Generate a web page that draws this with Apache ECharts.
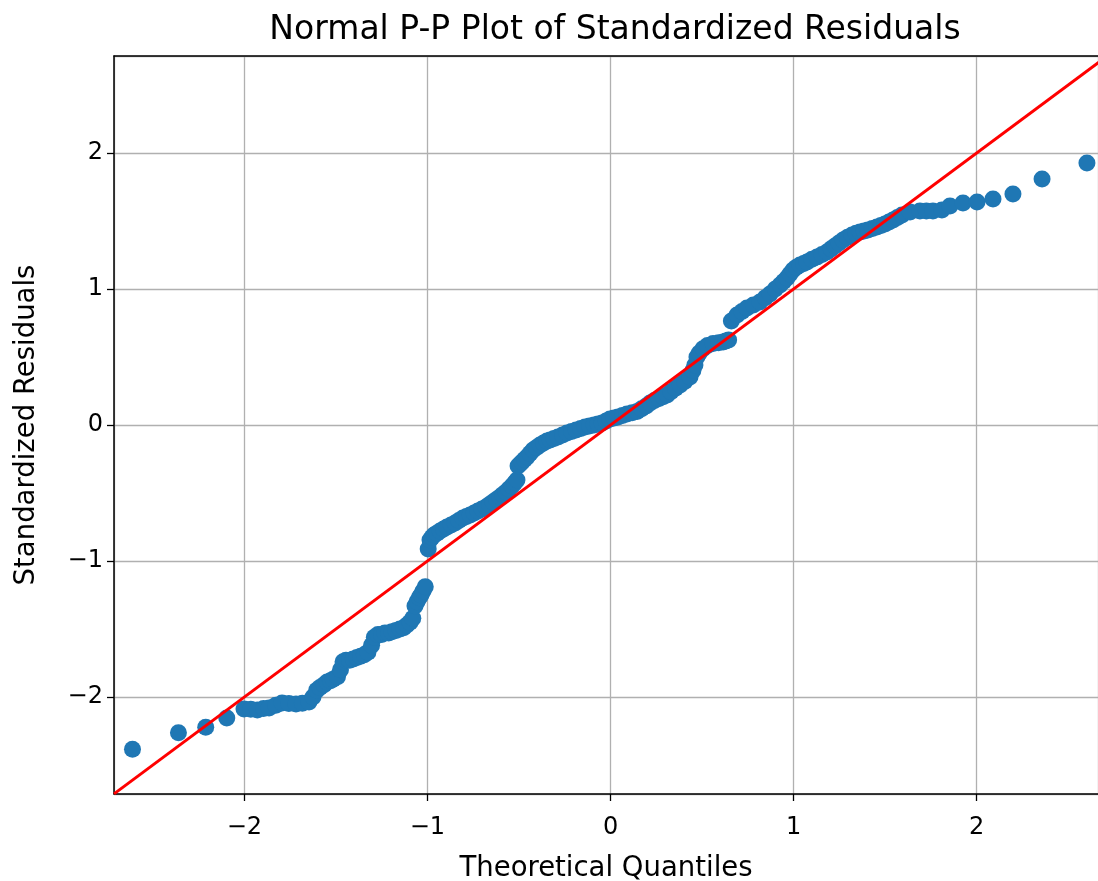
<!DOCTYPE html>
<html>
<head>
<meta charset="utf-8">
<script src="https://cdn.jsdelivr.net/npm/echarts@6/dist/echarts.min.js"></script>
<style>html,body{margin:0;padding:0;background:#fff}#c{width:1098px;height:881px}</style>
</head>
<body>
<div id="c"></div>
<script>
const titleText = "Normal P-P Plot of Standardized Residuals";
const xName = "Theoretical Quantiles";
const yName = "Standardized Residuals";
const xLimits = [-2.712, 2.6625];
const yLimits = [-2.713, 2.713];
const theoreticalQuantiles = [
-2.611,-2.360,-2.211,-2.096,-2.002,-1.965,-1.929,-1.895,-1.865,-1.828,-1.794,-1.757,-1.718,-1.683,-1.647,-1.625,-1.605,-1.587,-1.565,-1.548,
-1.530,-1.515,-1.491,-1.475,-1.461,-1.445,-1.425,-1.405,-1.385,-1.365,-1.345,-1.325,-1.305,-1.290,-1.270,-1.250,-1.232,-1.212,-1.194,-1.172,
-1.150,-1.130,-1.112,-1.095,-1.080,-1.068,-1.057,-1.045,-1.035,-1.024,-1.012,-0.996,-0.986,-0.975,-0.964,-0.948,-0.931,-0.912,-0.893,-0.871,
-0.849,-0.828,-0.806,-0.787,-0.767,-0.745,-0.724,-0.702,-0.680,-0.661,-0.642,-0.623,-0.604,-0.588,-0.571,-0.555,-0.538,-0.524,-0.511,-0.505,
-0.494,-0.483,-0.470,-0.456,-0.440,-0.423,-0.404,-0.385,-0.366,-0.347,-0.330,-0.309,-0.287,-0.262,-0.238,-0.213,-0.188,-0.163,-0.139,-0.115,
-0.090,-0.068,-0.046,-0.024,-0.003,0.019,0.041,0.065,0.090,0.118,0.145,0.170,0.195,0.216,0.240,0.265,0.287,0.309,0.330,0.355,
0.380,0.405,0.434,0.450,0.461,0.472,0.485,0.505,0.530,0.560,0.590,0.615,0.630,0.645,0.660,0.691,0.718,0.745,0.780,0.816,
0.845,0.871,0.900,0.926,0.945,0.964,0.980,0.997,1.015,1.035,1.055,1.073,1.100,1.128,1.155,1.182,1.205,1.226,1.248,1.270,
1.295,1.319,1.341,1.363,1.385,1.406,1.430,1.455,1.477,1.499,1.521,1.543,1.567,1.592,1.636,1.690,1.725,1.761,1.810,1.854,
1.925,2.002,2.089,2.198,2.357,2.602
];
const standardizedResiduals = [
-2.384,-2.262,-2.223,-2.154,-2.088,-2.090,-2.096,-2.085,-2.081,-2.060,-2.044,-2.048,-2.051,-2.045,-2.037,-2.000,-1.950,-1.930,-1.910,-1.890,
-1.880,-1.870,-1.850,-1.800,-1.740,-1.730,-1.730,-1.720,-1.710,-1.700,-1.690,-1.670,-1.620,-1.560,-1.540,-1.540,-1.530,-1.530,-1.520,-1.510,
-1.500,-1.490,-1.470,-1.450,-1.420,-1.330,-1.300,-1.270,-1.250,-1.220,-1.190,-0.912,-0.846,-0.825,-0.809,-0.795,-0.779,-0.765,-0.750,-0.735,
-0.721,-0.702,-0.684,-0.673,-0.662,-0.647,-0.632,-0.618,-0.603,-0.585,-0.566,-0.548,-0.529,-0.511,-0.493,-0.471,-0.449,-0.426,-0.404,-0.301,
-0.286,-0.272,-0.254,-0.235,-0.210,-0.184,-0.165,-0.147,-0.132,-0.118,-0.110,-0.099,-0.088,-0.074,-0.059,-0.048,-0.037,-0.026,-0.015,-0.008,
0.000,0.008,0.015,0.030,0.044,0.052,0.059,0.070,0.081,0.090,0.100,0.120,0.140,0.162,0.180,0.195,0.208,0.221,0.245,0.270,
0.294,0.320,0.353,0.400,0.441,0.500,0.529,0.560,0.585,0.600,0.605,0.610,0.618,0.625,0.765,0.809,0.835,0.860,0.882,0.904,
0.935,0.963,1.000,1.029,1.055,1.081,1.110,1.140,1.160,1.176,1.188,1.199,1.218,1.235,1.253,1.272,1.295,1.316,1.338,1.360,
1.380,1.397,1.410,1.419,1.427,1.434,1.445,1.456,1.467,1.478,1.492,1.507,1.525,1.544,1.566,1.574,1.574,1.574,1.581,1.610,
1.632,1.640,1.662,1.699,1.809,1.926
];
const refLineX = [-2.712, 2.712];
const refLineY = [-2.712, 2.712];

const points = theoreticalQuantiles.map((x, i) => [x, standardizedResiduals[i]]);
const refLine = refLineX.map((x, i) => [x, refLineY[i]]);
const FONT = "DejaVu Sans";
const fmt = v => (Math.abs(v - Math.round(v)) < 1e-9) ? String(Math.round(v)).replace('-', '\u2212') : '';
const spine = {show: true, onZero: false, lineStyle: {color: '#000', width: 1.5}};

const chart = echarts.init(document.getElementById('c'), null, {renderer: 'canvas'});
chart.setOption({
  animation: false,
  backgroundColor: '#ffffff',
  title: {
    text: titleText, left: 610, top: 9, textAlign: 'center',
    textStyle: {fontFamily: FONT, fontSize: 33, fontWeight: 'normal', color: '#000'}
  },
  grid: {left: 114, top: 56, right: 0, bottom: 87, show: false, containLabel: false, outerBoundsMode: 'none'},
  xAxis: [{
    type: 'value', min: xLimits[0], max: xLimits[1], splitNumber: 5,
    name: xName, nameLocation: 'middle', nameGap: 61,
    nameTextStyle: {fontFamily: FONT, fontSize: 27.5, color: '#000'},
    axisLine: spine,
    axisTick: {show: true, inside: false, length: 7, lineStyle: {color: '#000', width: 1.3}},
    axisLabel: {fontFamily: FONT, fontSize: 24, color: '#000', margin: 22, formatter: fmt, showMinLabel: false, showMaxLabel: false},
    splitLine: {show: true, lineStyle: {color: '#b0b0b0', width: 1.3}}
  }, {
    type: 'value', position: 'top', min: xLimits[0], max: xLimits[1],
    axisLine: spine, axisTick: {show: false}, axisLabel: {show: false}, splitLine: {show: false}
  }],
  yAxis: {
    type: 'value', min: yLimits[0], max: yLimits[1], splitNumber: 5,
    name: yName, nameLocation: 'middle', nameGap: 73, nameRotate: 90,
    nameTextStyle: {fontFamily: FONT, fontSize: 27.5, color: '#000'},
    axisLine: spine,
    axisTick: {show: true, inside: false, length: 7, lineStyle: {color: '#000', width: 1.3}},
    axisLabel: {fontFamily: FONT, fontSize: 24, color: '#000', margin: 11, formatter: fmt, showMinLabel: false, showMaxLabel: false},
    splitLine: {show: true, lineStyle: {color: '#b0b0b0', width: 1.3}}
  },
  series: [
    {type: 'scatter', data: points, symbol: 'circle', symbolSize: 17,
     itemStyle: {color: '#1f77b4', opacity: 1}, z: 2},
    {type: 'line', data: refLine, symbol: 'none', lineStyle: {color: '#ff0000', width: 3}, z: 3, clip: true}
  ]
});
</script>
</body>
</html>
